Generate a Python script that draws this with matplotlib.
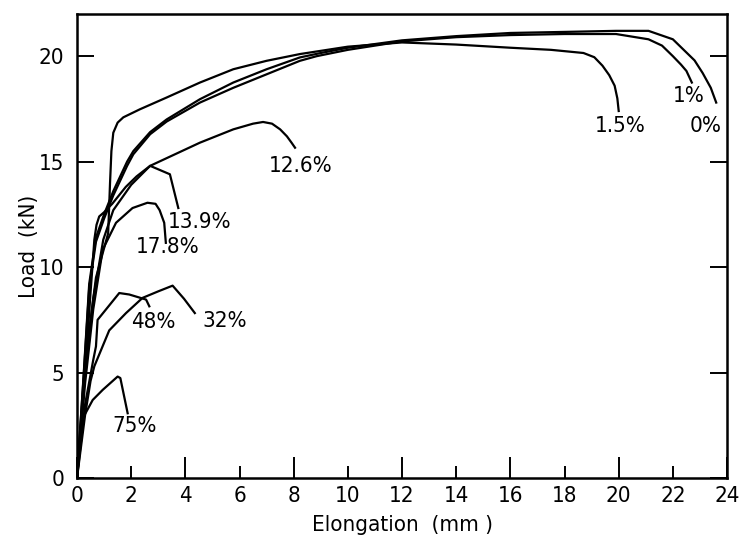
import matplotlib
matplotlib.use("Agg")
import matplotlib.pyplot as plt
from matplotlib import font_manager

# Load-elongation curves, one pair of lists per specimen
x_0 = [0, 0.25, 0.45, 0.7, 1.0, 1.34, 1.85, 2.08, 2.7, 3.31, 4.54, 5.77, 7.0, 8.23, 9, 10,
       12, 14, 16, 18, 19.9, 21.1, 22.0, 22.4, 22.8, 23.1, 23.4, 23.6]
y_0 = [0, 5, 9.2, 11.4, 12.5, 13.6, 15.0, 15.5, 16.4, 17.0, 17.96, 18.75, 19.38, 19.94,
       20.15, 20.4, 20.75, 20.95, 21.1, 21.15, 21.2, 21.2, 20.8, 20.3, 19.8, 19.2, 18.5, 17.8]

x_1 = [0, 0.25, 0.45, 0.7, 1.0, 1.34, 1.85, 2.08, 2.7, 3.31, 4.54, 5.77, 7.0, 8.23, 8.85,
       10, 12, 14, 16, 18, 19.9, 21.1, 21.6, 22.0, 22.3, 22.5, 22.7]
y_1 = [0, 4.9, 9.0, 11.2, 12.3, 13.4, 14.8, 15.35, 16.3, 16.9, 17.8, 18.5, 19.14, 19.78,
       20.0, 20.3, 20.7, 20.9, 21.0, 21.05, 21.05, 20.8, 20.5, 20.0, 19.6, 19.3, 18.75]

x_15 = [0, 0.3, 0.7, 1.15, 1.22, 1.27, 1.34, 1.5, 1.71, 2.32, 3.31, 4.54, 5.77, 7.0, 8.23,
        10, 12, 14, 16, 17.5, 18.7, 19.1, 19.4, 19.65, 19.85, 19.95, 20.0]
y_15 = [0, 5.5, 9.5, 11.6, 14.0, 15.5, 16.37, 16.85, 17.1, 17.48, 18.04, 18.75, 19.38,
        19.78, 20.1, 20.45, 20.65, 20.55, 20.4, 20.3, 20.15, 19.95, 19.55, 19.1, 18.6, 18.0,
        17.4]

x_126 = [0, 0.3, 0.6, 0.97, 1.34, 2.0, 2.7, 4.54, 5.77, 6.5, 6.87, 7.2, 7.5, 7.75, 7.92, 8.05]
y_126 = [0, 5, 8.5, 11.3, 12.7, 13.9, 14.8, 15.9, 16.53, 16.8, 16.88, 16.8, 16.53, 16.2,
         15.9, 15.66]

x_139 = [0, 0.3, 0.5, 0.58, 0.64, 0.72, 0.82, 1.0, 1.3, 1.8, 2.2, 2.7, 3.43, 3.74]
y_139 = [0, 5, 8.8, 10.2, 11.3, 12.0, 12.4, 12.6, 13.0, 13.8, 14.3, 14.8, 14.4, 12.8]

x_178 = [0, 0.3, 0.6, 0.95, 1.44, 2.05, 2.6, 2.9, 3.05, 3.22, 3.28]
y_178 = [0, 4.5, 8, 10.83, 12.1, 12.8, 13.05, 13.0, 12.7, 12.1, 11.15]

x_32 = [0, 0.3, 0.5, 0.64, 1.19, 1.81, 2.42, 3.0, 3.53, 3.95, 4.35]
y_32 = [0, 3, 4.6, 5.3, 7.0, 7.82, 8.54, 8.85, 9.12, 8.5, 7.82]

x_48 = [0, 0.3, 0.6, 0.7, 0.76, 1.56, 1.93, 2.55, 2.67]
y_48 = [0, 3.5, 5.6, 6.24, 7.5, 8.77, 8.7, 8.46, 8.14]

x_75 = [0, 0.2, 0.58, 0.95, 1.5, 1.6, 1.87]
y_75 = [0, 2.8, 3.7, 4.18, 4.81, 4.74, 3.07]

curves = [(x_0, y_0), (x_1, y_1), (x_15, y_15), (x_126, y_126), (x_139, y_139),
          (x_178, y_178), (x_32, y_32), (x_48, y_48), (x_75, y_75)]

# curve labels and where they sit
labels = ["0%", "1%", "1.5%", "12.6%", "13.9%", "17.8%", "32%", "48%", "75%"]
label_x = [23.2, 22.58, 20.04, 8.27, 4.54, 3.36, 5.46, 2.8, 2.14]
label_y = [16.7, 18.1, 16.67, 14.77, 12.16, 10.97, 7.46, 7.4, 2.47]

xticks = list(range(0, 25, 2))
yticks = [0, 5, 10, 15, 20]

# narrow face to mimic the lettering of the scanned figure
fp = font_manager.FontProperties(family='DejaVu Sans', stretch='condensed', size=16)

fig = plt.figure(figsize=(7.44, 5.44), dpi=100)
ax = fig.add_axes([0.1035, 0.1213, 0.8737, 0.853])

for xs, ys in curves:
    ax.plot(xs, ys, color='black', lw=1.6, solid_joinstyle='round')

for txt, tx, ty in zip(labels, label_x, label_y):
    ax.text(tx, ty, txt, ha='center', va='center', fontproperties=fp)

ax.set_xlim(0, 24)
ax.set_ylim(0, 22)
ax.set_xticks(xticks)
ax.set_yticks(yticks)
ax.tick_params(axis='x', direction='in', length=12, width=1.4, pad=6)
ax.tick_params(axis='y', direction='in', length=12, width=1.4, pad=9, right=True)
for lab in ax.get_xticklabels() + ax.get_yticklabels():
    lab.set_fontproperties(fp)

# hand-drawn look: alternate short and long ticks on the x axis
for i, t in enumerate(ax.xaxis.get_major_ticks()):
    t.tick1line.set_markersize(15 if i % 2 == 0 else 9)

for s in ax.spines.values():
    s.set_linewidth(1.8)

ax.set_xlabel('Elongation  (mm )', fontproperties=fp, labelpad=6)
ax.set_ylabel('Load  (kN)', fontproperties=fp, labelpad=0)

plt.savefig('out.png', dpi=100)
